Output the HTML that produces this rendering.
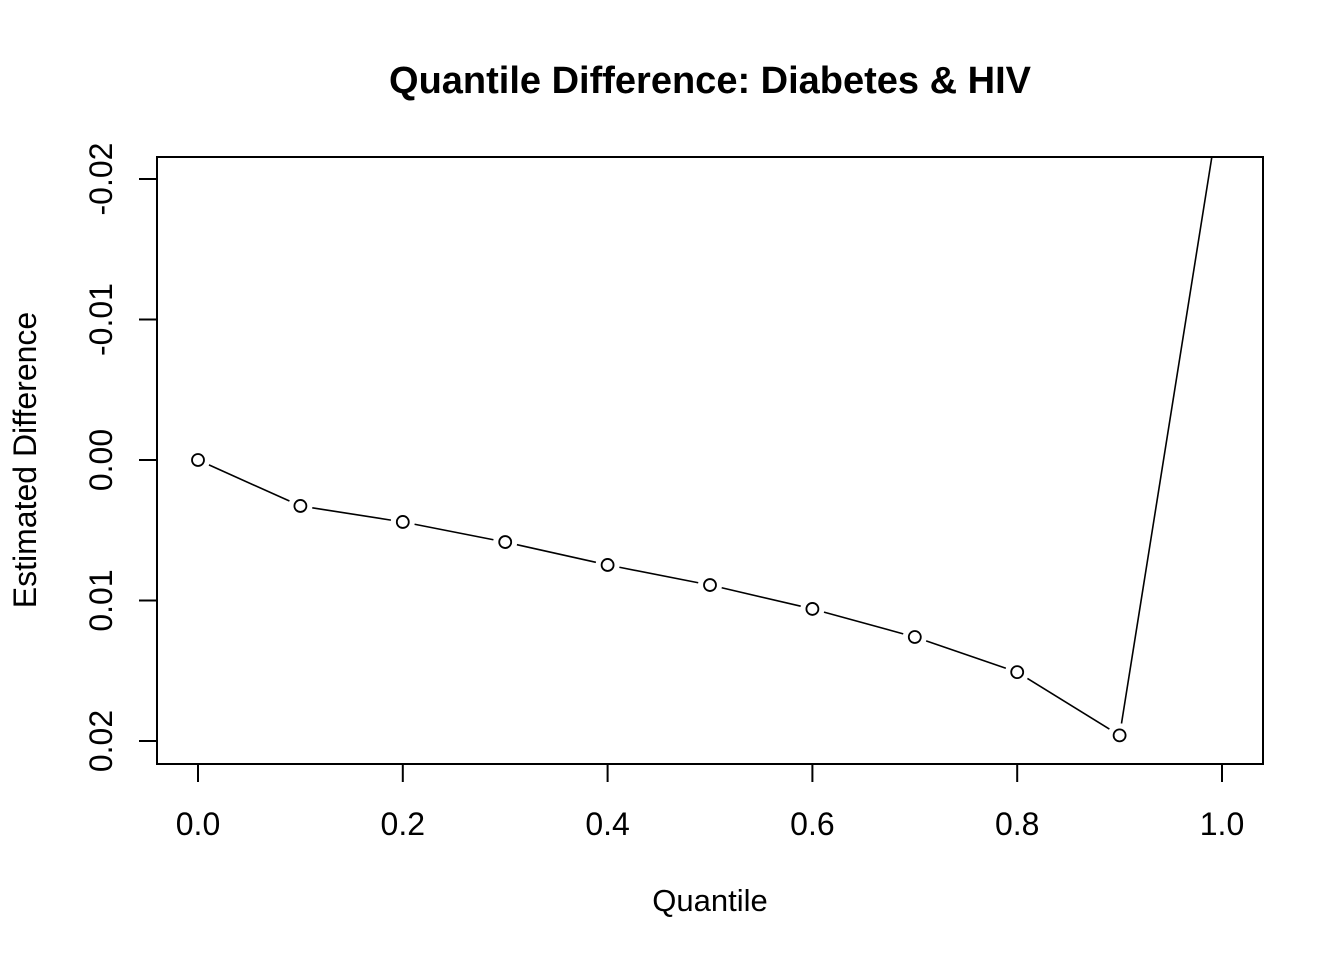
<!DOCTYPE html>
<html><head><meta charset="utf-8"><style>
body{margin:0;background:#fff}
text{font-family:"Liberation Sans",Arial,sans-serif;fill:#000}
</style></head><body>
<svg id="chart" width="1344" height="960" xmlns="http://www.w3.org/2000/svg">
<defs><clipPath id="clip"><rect x="157" y="157" width="1106" height="607"/></clipPath></defs>
<rect width="1344" height="960" fill="#fff"/>
<text x="710" y="93" font-size="38" font-weight="bold" text-anchor="middle">Quantile Difference: Diabetes &amp; HIV</text>
<rect x="157" y="157" width="1106" height="607" fill="none" stroke="#000" stroke-width="2"/>
<text x="710" y="911" font-size="31" text-anchor="middle">Quantile</text>
<text transform="translate(36,460) rotate(-90)" font-size="32" text-anchor="middle">Estimated Difference</text>
<g id="axes"></g>
<g id="series" clip-path="url(#clip)"></g>
</svg>
<script>
const quantiles=[0,0.1,0.2,0.3,0.4,0.5,0.6,0.7,0.8,0.9,1.0];
const diffs=[0,0.00327,0.00441,0.00584,0.00747,0.0089,0.0106,0.0126,0.0151,0.0196,-0.0261];
const xTicks=[0,0.2,0.4,0.6,0.8,1.0];
const xTickLabels=["0.0","0.2","0.4","0.6","0.8","1.0"];
const yTicks=[-0.02,-0.01,0,0.01,0.02];
const yTickLabels=["-0.02","-0.01","0.00","0.01","0.02"];
const NS="http://www.w3.org/2000/svg";
const xs=v=>198+v*1024;
const ys=v=>460+v*14050;
const axes=document.getElementById('axes'),ser=document.getElementById('series');
function mk(tag,attrs,parent){const e=document.createElementNS(NS,tag);for(const k in attrs)e.setAttribute(k,attrs[k]);parent.appendChild(e);return e;}
mk('line',{x1:xs(0),x2:xs(1),y1:764,y2:764,stroke:'#000','stroke-width':2},axes);
mk('line',{x1:157,x2:157,y1:ys(-0.02),y2:ys(0.02),stroke:'#000','stroke-width':2},axes);
xTicks.forEach((t,i)=>{
 const l=mk('line',{x1:xs(t),x2:xs(t),y1:764,y2:782,stroke:'#000','stroke-width':2},axes);
 
 
 const tx=mk('text',{x:xs(t),y:835,'font-size':32,'text-anchor':'middle'},axes);
 tx.textContent=xTickLabels[i];
 
 
});
yTicks.forEach((t,i)=>{
 const l=mk('line',{x1:139,x2:157,y1:ys(t),y2:ys(t),stroke:'#000','stroke-width':2},axes);
 
 
 const tx=mk('text',{transform:`translate(112,${ys(t)}) rotate(-90)`,'font-size':32,'text-anchor':'middle'},axes);
 tx.textContent=yTickLabels[i];
 
 
});
const gap=12;
for(let i=0;i<quantiles.length-1;i++){
 const x1=xs(quantiles[i]),y1=ys(diffs[i]),x2=xs(quantiles[i+1]),y2=ys(diffs[i+1]);
 const d=Math.hypot(x2-x1,y2-y1);if(d<2*gap)continue;
 const ux=(x2-x1)/d,uy=(y2-y1)/d;
 const s=mk('line',{x1:x1+ux*gap,y1:y1+uy*gap,x2:x2-ux*gap,y2:y2-uy*gap,stroke:'#000','stroke-width':1.6},ser);
 
 
}
quantiles.forEach((q,i)=>{
 const c=mk('circle',{cx:xs(q),cy:ys(diffs[i]),r:6,fill:'none',stroke:'#000','stroke-width':1.8},ser);
 
 
});
</script>
</body></html>
